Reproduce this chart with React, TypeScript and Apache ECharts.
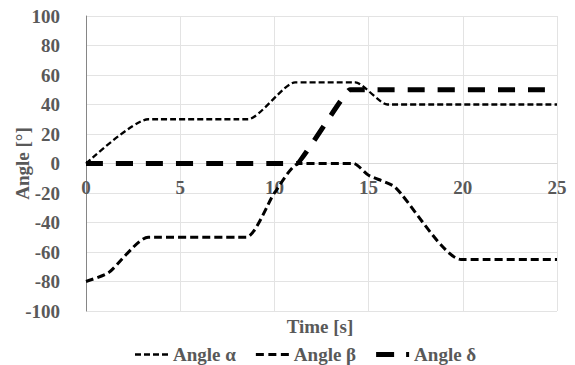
import React, { useEffect, useRef } from "react";
import * as echarts from "echarts";

const seriesNames = ["Angle α", "Angle β", "Angle δ"];

const alphaData: [number, number][] = [
  [0, 0], [3.3, 30], [8.6, 30], [11.1, 55], [14.3, 55], [16.0, 40], [25, 40],
];
const betaData: [number, number][] = [
  [0, -80], [1.2, -74], [3.3, -50], [8.5, -50], [10, -20], [11.3, 0], [14.2, 0],
  [15, -8], [16.4, -16], [19.9, -65], [25, -65],
];
const deltaData: [number, number][] = [
  [0, 0], [11.2, 0], [14.0, 50], [25, 50],
];

const xTicks = { min: 0, max: 25, interval: 5 };
const yTicks = { min: -100, max: 100, interval: 20 };

const FONT = "'Liberation Serif', 'Times New Roman', serif";
const GREY = "#595959";
const FS = 19;

// legend icon built from dash segments inside a 33x14 box
function dashIcon(segs: [number, number][], thick: number): string {
  const W = 33, H = 14;
  const y0 = (H - thick) / 2;
  let d = `path://M0,0h0.01v0.01h-0.01Z M${W},${H}h-0.01v-0.01h0.01Z`;
  for (const [a, b] of segs) {
    d += ` M${a},${y0}H${b}V${y0 + thick}H${a}Z`;
  }
  return d;
}

export default function App() {
  const ref = useRef<HTMLDivElement>(null);
  useEffect(() => {
    if (!ref.current) return;
    const chart = echarts.init(ref.current, undefined, { renderer: "svg" });
    const labelStyle = { color: GREY, fontFamily: FONT, fontWeight: "bold" as const, fontSize: FS };
    chart.setOption({
      animation: false,
      backgroundColor: "#ffffff",
      grid: {
        left: 86, right: 18, top: 16, bottom: 54,
        containLabel: false,
        outerBoundsMode: "none",
      },
      xAxis: {
        type: "value",
        min: xTicks.min,
        max: xTicks.max,
        interval: xTicks.interval,
        offset: -147.5,
        axisLine: { show: true, onZero: false, lineStyle: { color: "#d9d9d9", width: 1 } },
        axisTick: { show: false },
        axisLabel: { ...labelStyle, margin: 14 },
        splitLine: { show: true, lineStyle: { color: "#e3e3e3", width: 1 } },
      },
      yAxis: {
        type: "value",
        min: yTicks.min,
        max: yTicks.max,
        interval: yTicks.interval,
        name: "Angle [°]",
        nameLocation: "middle",
        nameGap: 54,
        nameMoveOverlap: false,
        nameTextStyle: { ...labelStyle },
        axisLine: { show: true, lineStyle: { color: "#868686", width: 1 } },
        axisTick: { show: false },
        axisLabel: { ...labelStyle, margin: 26 },
        splitLine: { show: true, lineStyle: { color: "#e3e3e3", width: 1 } },
      },
      legend: {
        left: 130,
        top: 340,
        itemWidth: 33,
        itemHeight: 14,
        itemGap: 20,
        textStyle: { ...labelStyle },
        data: [
          { name: seriesNames[0], icon: dashIcon([[0, 6], [9, 15], [18, 24], [27, 33]], 2.3) },
          { name: seriesNames[1], icon: dashIcon([[0, 8], [12.5, 20.5], [25, 33]], 3) },
          { name: seriesNames[2], icon: dashIcon([[0, 18], [30, 33]], 5) },
        ],
      },
      graphic: [
        {
          type: "text",
          x: 320,
          y: 326,
          style: {
            text: "Time [s]",
            fill: GREY,
            font: `bold ${FS}px ${FONT}`,
            textAlign: "center",
            textVerticalAlign: "middle",
          },
        },
      ],
      series: [
        {
          name: seriesNames[0],
          type: "line",
          data: alphaData,
          smooth: 0.2,
          symbol: "none",
          lineStyle: { color: "#000", width: 2.3, type: [6, 3] },
          itemStyle: { color: "#000" },
        },
        {
          name: seriesNames[1],
          type: "line",
          data: betaData,
          smooth: 0.2,
          symbol: "none",
          lineStyle: { color: "#000", width: 3, type: [8, 4] },
          itemStyle: { color: "#000" },
        },
        {
          name: seriesNames[2],
          type: "line",
          data: deltaData,
          smooth: 0.05,
          symbol: "none",
          lineStyle: { color: "#000", width: 5, type: [17, 13] },
          itemStyle: { color: "#000" },
        },
      ],
    });
    return () => chart.dispose();
  }, []);
  return (
    <div
      ref={ref}
      style={{ position: "fixed", left: 0, top: 0, width: 575, height: 365 }}
    />
  );
}
